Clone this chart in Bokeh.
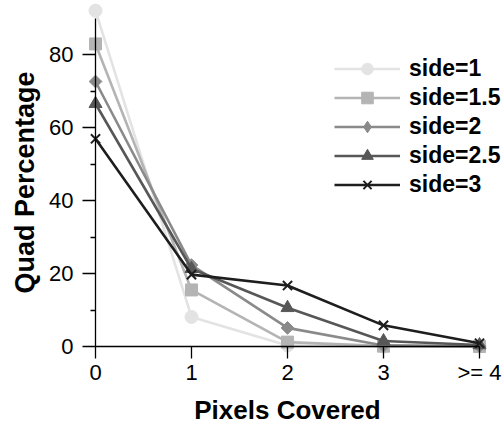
import math
from bokeh.plotting import figure
from bokeh.models import Range1d, FixedTicker, Legend, LegendItem
from bokeh.embed import file_html
from bokeh.resources import INLINE

# ---- data ----
x_pos = [0, 1, 2, 3, 4]
x_labels = ["0", "1", "2", "3", ">= 4"]
side_1 = [92.0, 8.1, 0.3, 0.0, 0.0]
side_1_5 = [82.9, 15.5, 1.2, 0.1, 0.0]
side_2 = [72.6, 22.3, 5.1, 0.3, 0.1]
side_2_5 = [66.5, 21.3, 10.6, 1.5, 0.4]
side_3 = [56.9, 19.7, 16.7, 5.8, 0.9]
series_names = ["side=1", "side=1.5", "side=2", "side=2.5", "side=3"]
y_ticks = [0, 20, 40, 60, 80]
y_minor_ticks = [10, 30, 50, 70]

series = [side_1, side_1_5, side_2, side_2_5, side_3]
colors = ["#e3e3e3", "#b4b4b4", "#8a8a8a", "#575757", "#1e1e1e"]
markers = ["circle", "square", "square", "triangle", "x"]
legend_markers = ["circle", "square", "diamond", "triangle", "x"]
angles = [0, 0, math.pi / 4, 0, 0]
msizes = [13, 12, 9, 13, 13]

FONT = "Liberation Sans"

W, H = 504, 425
X0_PX, PX_PER_X = 95.0, 96.0      # screen position of x=0, px per unit
Y0_PX, PX_PER_Y = 346.0, 3.65     # screen position of y=0, px per unit

p = figure(width=W, height=H, output_backend="svg", toolbar_location=None,
           x_range=Range1d(-X0_PX / PX_PER_X, (W - X0_PX) / PX_PER_X),
           y_range=Range1d(-(H - Y0_PX) / PX_PER_Y, Y0_PX / PX_PER_Y))
# a range that keeps legend-key-only glyphs out of view
p.extra_y_ranges = {"legend_key": Range1d(1000, 2000)}
p.min_border_left = 0
p.min_border_right = 0
p.min_border_top = 0
p.min_border_bottom = 0
p.outline_line_color = None
p.xgrid.visible = False
p.ygrid.visible = False
p.background_fill_color = "white"
p.border_fill_color = "white"

items = []
for name, vals, c, m, lm, a, s in zip(series_names, series, colors, markers,
                                      legend_markers, angles, msizes):
    lr = p.line(x_pos, vals, line_color=c, line_width=2.6)
    if m == "x":
        sr = p.scatter(x_pos, vals, marker=m, size=s, line_color=c, line_width=2)
    else:
        sr = p.scatter(x_pos, vals, marker=m, size=s, angle=a, fill_color=c, line_color=c)
    if lm != m:
        # legend key glyph with the proper marker shape (mapped out of view)
        sr = p.scatter(x_pos, vals, marker=lm, fill_color=c, line_color=c,
                       y_range_name="legend_key")
    items.append(LegendItem(label=name, renderers=[lr, sr]))

# axes
xa = p.xaxis[0]
ya = p.yaxis[0]
xa.fixed_location = 0
ya.fixed_location = 0
xa.bounds = (0, 4)
ya.bounds = (0, 90)
xa.ticker = FixedTicker(ticks=x_pos)
xa.major_label_overrides = {i: l for i, l in zip(x_pos, x_labels)}
ya.ticker = FixedTicker(ticks=y_ticks, minor_ticks=y_minor_ticks)
for ax in (xa, ya):
    ax.axis_line_color = "black"
    ax.axis_line_width = 1.3
    ax.major_tick_line_color = "black"
    ax.major_tick_line_width = 1.3
    ax.minor_tick_line_color = "black"
    ax.minor_tick_line_width = 1.3
    ax.major_tick_in = 0
    ax.minor_tick_in = 0
    ax.major_label_text_font = FONT
    ax.major_label_text_font_size = "22px"
    ax.major_label_text_color = "black"
    ax.axis_label_text_font = FONT
    ax.axis_label_text_font_style = "bold"
    ax.axis_label_text_color = "black"
xa.major_tick_out = 12
xa.minor_tick_out = 0
ya.major_tick_out = 13
ya.minor_tick_out = 5
xa.axis_label = "Pixels Covered"
ya.axis_label = "Quad Percentage"
xa.axis_label_text_font_size = "26px"
ya.axis_label_text_font_size = "27px"
xa.major_label_standoff = 1
ya.major_label_standoff = 9
xa.axis_label_standoff = 7
ya.axis_label_standoff = 6

LEG_ROW = 29
LEG_TOP = 54
legend = Legend(items=items, location=(334, H - (LEG_TOP + 5 * LEG_ROW)))
legend.border_line_color = None
legend.background_fill_alpha = 0
legend.glyph_width = 66
legend.glyph_height = LEG_ROW
legend.label_height = LEG_ROW
legend.spacing = 0
legend.padding = 0
legend.margin = 0
legend.label_standoff = 9
legend.label_text_font = FONT
legend.label_text_font_style = "bold"
legend.label_text_font_size = "23px"
legend.label_text_color = "black"
p.add_layout(legend)

open("out.html", "w").write(file_html(p, INLINE))
